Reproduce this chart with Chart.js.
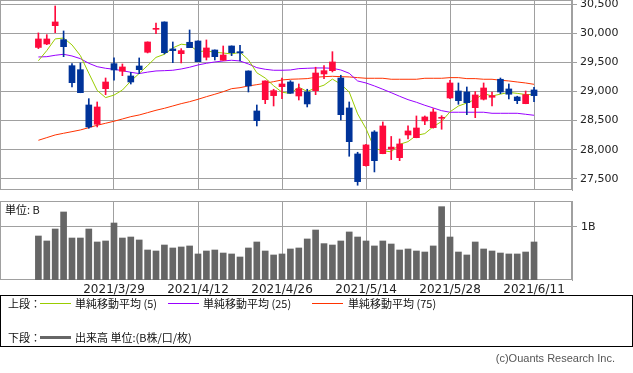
<!DOCTYPE html>
<html><head><meta charset="utf-8">
<script src="https://cdn.jsdelivr.net/npm/chart.js@4.4.1/dist/chart.umd.min.js"></script>
<style>
html,body{margin:0;padding:0;background:#fff;}
#wrap{position:relative;width:633px;height:373px;overflow:hidden;font-family:"Noto Sans CJK JP","DejaVu Sans",sans-serif;}
canvas{position:absolute;left:0;}
#c1{top:0;}
#c2{top:190px;}
.t{position:absolute;font-size:11px;line-height:13px;color:#111;white-space:nowrap;}
.ln{position:absolute;}
#box{position:absolute;left:0;top:295px;width:633px;height:52px;border:1px solid #000;box-sizing:border-box;}
#copy{font-family:"Liberation Sans",sans-serif;color:#555;font-size:11px;}
</style></head>
<body><div id="wrap">
<canvas id="c1" width="633" height="200"></canvas>
<canvas id="c2" width="633" height="120"></canvas>
<div class="t" style="left:5px;top:203px;">単位: B</div>
<div id="box"></div>
<div class="t" style="left:8px;top:297px;">上段：</div>
<div class="ln" style="left:40px;top:303px;width:31px;height:1px;background:#99cc00;"></div>
<div class="t" style="left:75px;top:297px;">単純移動平均 (5)</div>
<div class="ln" style="left:168px;top:303px;width:31px;height:1px;background:#9900ff;"></div>
<div class="t" style="left:203px;top:297px;">単純移動平均 (25)</div>
<div class="ln" style="left:312px;top:303px;width:31px;height:1px;background:#ff3300;"></div>
<div class="t" style="left:348px;top:297px;">単純移動平均 (75)</div>
<div class="t" style="left:8px;top:331px;">下段：</div>
<div class="ln" style="left:40px;top:336px;width:31px;height:3px;background:#666;"></div>
<div class="t" style="left:75px;top:331px;">出来高 単位:(B株/口/枚)</div>
<div class="t" id="copy" style="right:18px;top:352px;">(c)Ouants Research Inc.</div>
</div>
<script>
const dates = ['2021/3/16','2021/3/17','2021/3/18','2021/3/19','2021/3/22','2021/3/23','2021/3/24','2021/3/25','2021/3/26','2021/3/29','2021/3/30','2021/3/31','2021/4/1','2021/4/2','2021/4/5','2021/4/6','2021/4/7','2021/4/8','2021/4/9','2021/4/12','2021/4/13','2021/4/14','2021/4/15','2021/4/16','2021/4/19','2021/4/20','2021/4/21','2021/4/22','2021/4/23','2021/4/26','2021/4/27','2021/4/28','2021/4/30','2021/5/6','2021/5/7','2021/5/10','2021/5/11','2021/5/12','2021/5/13','2021/5/14','2021/5/17','2021/5/18','2021/5/19','2021/5/20','2021/5/21','2021/5/24','2021/5/25','2021/5/26','2021/5/27','2021/5/28','2021/5/31','2021/6/1','2021/6/2','2021/6/3','2021/6/4','2021/6/7','2021/6/8','2021/6/9','2021/6/10','2021/6/11'];
const opens  = [29760,29820,30135,29894,29446,29377,28769,28437,29050,29481,29350,29269,29441,29677,30072,30199,29734,29653,29849,29871,29591,29716,29539,29785,29687,29355,28666,28861,28930,29085,29165,28924,28993,29016,29303,29360,29234,28718,27926,27724,28304,27931,28010,27862,28253,28206,28494,28379,28540,28890,29010,28993,28723,28868,28902,29212,29045,28907,28792,29028];
const highs  = [30010,29980,30474,30044,29481,29493,28878,28821,29234,29579,29475,29330,29579,29856,30181,30201,29854,29739,30061,29873,29889,29718,29785,29787,29797,29357,28769,29185,29040,29234,29188,29131,29040,29419,29446,29687,29281,28821,27955,28090,28327,28477,28227,28184,28408,28580,28580,28706,28585,29195,29148,29079,29000,29148,28993,29234,29131,28920,29010,29074];
const lows   = [29740,29808,30014,29601,29079,28980,28368,28391,28947,29195,29274,29130,29308,29665,29997,29648,29498,29493,29756,29515,29544,29544,29537,29618,29527,28993,28408,28792,28752,28878,28971,28855,28735,28947,29222,29338,28511,27886,27387,27715,27616,27929,27828,27810,28184,28204,28430,28370,28351,28878,28781,28602,28551,28855,28752,28964,28873,28792,28790,28826];
const closes = [29906,29906,30199,29773,29153,28981,28391,28735,29165,29372,29424,29165,29377,29854,30084,29670,29705,29705,29756,29515,29751,29601,29630,29670,29665,29097,28499,29183,29016,29131,28971,29050,28787,29320,29360,29510,28602,28137,27449,28081,27810,28408,28044,28098,28322,28373,28563,28649,28552,29148,28843,28809,28942,29062,28930,28993,28954,28843,28947,28930];
const ma5  = [29531,29706,29907,29922,29804,29619,29317,29020,28896,28939,29026,29181,29312,29448,29589,29642,29752,29816,29799,29689,29700,29678,29664,29648,29677,29547,29324,29233,29101,28989,28967,29076,29001,29063,29110,29215,29126,28993,28616,28361,28023,27982,27962,28092,28138,28246,28276,28395,28486,28652,28751,28803,28864,28966,28924,28956,28986,28969,28949,28950];
const ma25 = [29596,29601,29625,29642,29613,29567,29487,29429,29401,29384,29360,29332,29310,29335,29355,29360,29367,29389,29419,29458,29487,29510,29527,29539,29527,29475,29412,29384,29367,29367,29372,29395,29401,29407,29407,29401,29372,29315,29183,29148,29097,29040,28981,28919,28861,28816,28764,28718,28671,28644,28644,28644,28644,28644,28626,28626,28626,28626,28609,28592];
const ma75 = [28161,28207,28253,28282,28310,28339,28379,28420,28454,28489,28528,28568,28597,28637,28678,28712,28752,28792,28826,28867,28912,28954,28998,29050,29067,29097,29119,29143,29171,29200,29212,29217,29223,29246,29257,29263,29257,29252,29240,29229,29229,29229,29212,29212,29212,29212,29229,29229,29229,29240,29240,29223,29223,29212,29212,29195,29183,29165,29148,29125];
const volume = [0.830,0.736,0.962,1.283,0.792,0.792,0.962,0.717,0.736,1.075,0.792,0.811,0.755,0.566,0.547,0.660,0.604,0.623,0.642,0.491,0.547,0.566,0.509,0.491,0.434,0.604,0.717,0.547,0.472,0.491,0.585,0.604,0.774,0.943,0.686,0.660,0.736,0.906,0.811,0.736,0.642,0.736,0.679,0.566,0.585,0.547,0.528,0.642,1.383,0.811,0.528,0.472,0.717,0.585,0.547,0.509,0.491,0.491,0.528,0.717];
const xTickLabels = ['2021/3/29','2021/4/12','2021/4/26','2021/5/14','2021/5/28','2021/6/11'];
const priceTicks = [27500,28000,28500,29000,29500,30000,30500];
const volTicks = [1];

const RED = '#ff0a3c', BLUE = '#003399', GRID = '#a0a0a0', TXT = '#222';
const xTickIdx = xTickLabels.map(l => dates.indexOf(l));
const candleColors = closes.map((c, i) => c >= opens[i] ? RED : BLUE);
const X_MIN = -4.57, X_MAX = 63.52;

const frame = {id:'frame', beforeDatasetsDraw(chart){
  const {ctx, chartArea:a} = chart;
  ctx.save(); ctx.strokeStyle = GRID; ctx.lineWidth = 1;
  ctx.strokeRect(Math.round(a.left)+0.5, Math.round(a.top)+0.5, Math.round(a.right-a.left)-1, Math.round(a.bottom-a.top)-1);
  ctx.restore();
}};
function zeroPad(s){ s.paddingLeft=0; s.paddingRight=0; s.paddingTop=0; s.paddingBottom=0; }

const xScaleBase = (showLabels) => ({
  type:'linear', min:X_MIN, max:X_MAX, offset:false,
  afterBuildTicks: s => { s.ticks = xTickIdx.map(v => ({value:v})); },
  grid:{color:GRID, drawTicks:false, offset:false},
  border:{display:false},
  ticks:{display:showLabels, autoSkip:false, maxRotation:0, padding:3, color:TXT,
         font:{family:'DejaVu Sans', size:12}, callback: v => dates[v]},
  afterFit: s => { s.height = showLabels ? 20 : 0; zeroPad(s); }
});

const line = (vals, color) => ({type:'line', data: vals.map((v,i)=>({x:i, y:v})), borderColor:color,
  borderWidth:1, pointRadius:0, tension:0, fill:false, order:3});

new Chart(document.getElementById('c1'), {
  type:'bar',
  data:{datasets:[
    {type:'bar', data: dates.map((d,i)=>({x:i, y:[opens[i], closes[i]]})), backgroundColor:candleColors,
     barThickness:6, grouped:false, minBarLength:1, borderWidth:0, order:1},
    {type:'bar', data: dates.map((d,i)=>({x:i, y:[lows[i], highs[i]]})), backgroundColor:candleColors,
     barThickness:1, grouped:false, borderWidth:0, order:2},
    line(ma5, '#99cc00'), line(ma25, '#9900ff'), line(ma75, '#ff3300')
  ]},
  options:{
    responsive:false, animation:false, devicePixelRatio:1,
    layout:{padding:{top:0, bottom:10, left:0, right:0}},
    plugins:{legend:{display:false}, tooltip:{enabled:false}},
    scales:{
      x: xScaleBase(false),
      y:{type:'linear', position:'right', min:27305, max:30577,
        afterBuildTicks: s => { s.ticks = priceTicks.map(v => ({value:v})); },
        grid:{color:GRID, tickLength:5, drawTicks:true},
        border:{display:true, color:GRID},
        ticks:{padding:3, color:TXT, font:{family:'DejaVu Sans', size:11}, callback: v => v.toLocaleString('en-US')},
        afterFit: s => { s.width = 61; zeroPad(s); }
      }
    }
  },
  plugins:[frame]
});

new Chart(document.getElementById('c2'), {
  type:'bar',
  data:{datasets:[
    {data: volume.map((v,i)=>({x:i, y:v})), backgroundColor:'#666666', barThickness:6, grouped:false, borderWidth:0}
  ]},
  options:{
    responsive:false, animation:false, devicePixelRatio:1,
    layout:{padding:{top:11, bottom:10, left:0, right:0}},
    plugins:{legend:{display:false}, tooltip:{enabled:false}},
    scales:{
      x: xScaleBase(true),
      y:{type:'linear', position:'right', min:0, max:1.49,
        afterBuildTicks: s => { s.ticks = volTicks.map(v => ({value:v})); },
        grid:{color:GRID, tickLength:5, drawTicks:true},
        border:{display:true, color:GRID},
        ticks:{padding:4, color:TXT, font:{family:'DejaVu Sans', size:11}, callback: v => v + 'B'},
        afterFit: s => { s.width = 61; zeroPad(s); }
      }
    }
  },
  plugins:[frame]
});
</script>
</body></html>
